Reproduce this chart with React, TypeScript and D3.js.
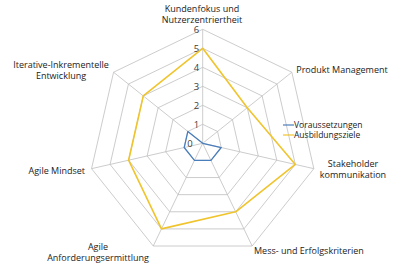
import React from "react";
import * as d3 from "d3";

const categories: string[][] = [
  ["Kundenfokus und", "Nutzerzentriertheit"],
  ["Produkt Management"],
  ["Stakeholder", "kommunikation"],
  ["Mess- und Erfolgskriterien"],
  ["Agile", "Anforderungsermittlung"],
  ["Agile Mindset"],
  ["Iterative-Inkrementelle", "Entwicklung"],
];
const voraussetzungen = [0, 0, 1, 1, 1, 1, 1];
const ausbildungsziele = [5, 3, 5, 4, 5, 4, 4];
const ticks = [0, 1, 2, 3, 4, 5, 6];
const seriesNames = ["Voraussetzungen", "Ausbildungsziele"];
const colors = ["#4a7ebb", "#f0c42c"];

const W = 408, H = 271;
const cx = 202.7, cy = 143.3, R = 114;
const FONT = "'Open Sans', 'Noto Sans', sans-serif";

export default function App() {
  const n = categories.length;
  const r = d3.scaleLinear().domain([0, 6]).range([0, R]);
  const angle = (i: number) => (i * 2 * Math.PI) / n;
  const pt = (i: number, v: number): [number, number] => [
    cx + r(v) * Math.sin(angle(i)),
    cy - r(v) * Math.cos(angle(i)),
  ];
  const radial = d3
    .lineRadial<number>()
    .angle((_, i) => angle(i))
    .radius((d) => r(d))
    .curve(d3.curveLinearClosed);

  // label placements (anchor, dx, dy relative to outer vertex)
  const labelPos: { x: number; y: number; anchor: string }[] = [
    { x: 202, y: 12, anchor: "middle" },
    { x: 342, y: 73, anchor: "middle" },
    { x: 353, y: 167, anchor: "middle" },
    { x: 254, y: 254, anchor: "start" },
    { x: 98, y: 250, anchor: "middle" },
    { x: 85, y: 174, anchor: "end" },
    { x: 61, y: 68, anchor: "middle" },
  ];

  return (
    <svg width={W} height={H} style={{ position: "absolute", left: 0, top: 0 }}>
      <rect width={W} height={H} fill="#fff" />
      <g fill="none" stroke="#bfbfbf" strokeWidth={0.8}>
        {ticks.slice(1).map((t) => (
          <path
            key={t}
            transform={`translate(${cx},${cy})`}
            d={radial(categories.map(() => t)) || ""}
          />
        ))}
        {categories.map((_, i) => {
          const [x, y] = pt(i, 6);
          return <line key={i} x1={cx} y1={cy} x2={x} y2={y} />;
        })}
      </g>
      {ticks.map((t) => (
        <text
          key={t}
          x={t === 0 ? cx - 10 : cx - 3.5 - t * 0.0}
          y={cy - r(t) + 3.5}
          textAnchor="end"
          fontFamily={FONT}
          fontSize={9.5}
          fill="#404040"
        >
          {t}
        </text>
      ))}
      {[voraussetzungen, ausbildungsziele].map((s, k) => (
        <path
          key={k}
          transform={`translate(${cx},${cy})`}
          d={radial(s) || ""}
          fill="none"
          stroke={colors[k]}
          strokeWidth={k === 0 ? 1.3 : 1.6}
          strokeLinejoin="round"
        />
      ))}
      {categories.map((lines, i) => (
        <text
          key={i}
          x={labelPos[i].x}
          y={labelPos[i].y}
          textAnchor={labelPos[i].anchor}
          fontFamily={FONT}
          fontSize={9}
          fill="#222"
        >
          {lines.map((l, j) => (
            <tspan key={j} x={labelPos[i].x} dy={j === 0 ? 0 : 10.5}>
              {l}
            </tspan>
          ))}
        </text>
      ))}
      {seriesNames.map((name, k) => (
        <g key={k} transform={`translate(283,${125 + k * 10})`}>
          <line x1={0} x2={11} y1={0} y2={0} stroke={colors[k]} strokeWidth={1.2} />
          <text x={11} y={3} fontFamily={FONT} fontSize={8.5} fill="#222">
            {name}
          </text>
        </g>
      ))}
    </svg>
  );
}
